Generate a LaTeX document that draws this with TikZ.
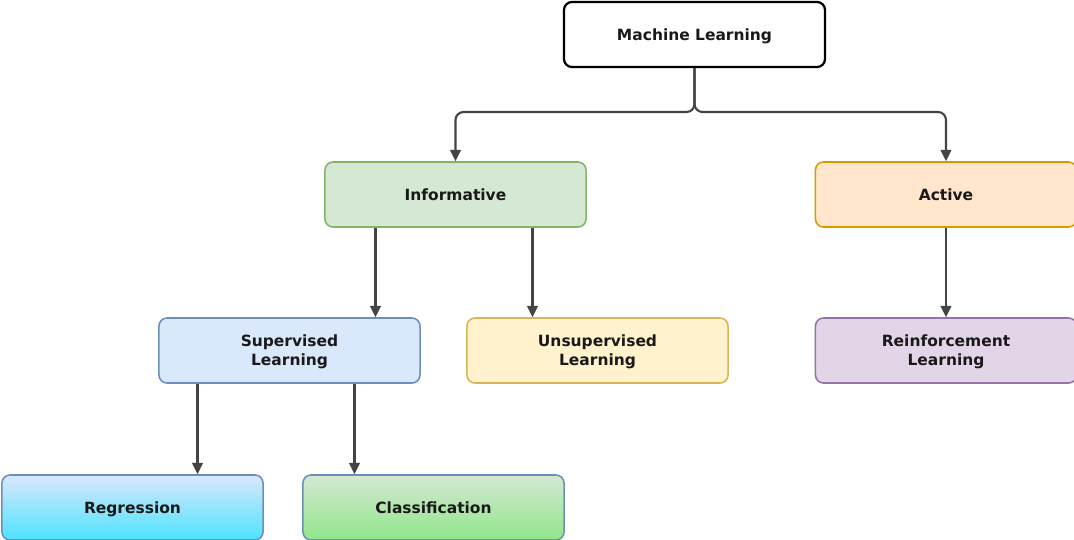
\documentclass[tikz,border=0pt]{standalone}
\usepackage{fontspec}
\setmainfont{DejaVu Sans}
\usetikzlibrary{arrows.meta,positioning}

\definecolor{infofill}{HTML}{D5E8D4}
\definecolor{infodraw}{HTML}{82B366}
\definecolor{actfill}{HTML}{FFE6CC}
\definecolor{actdraw}{HTML}{D79B00}
\definecolor{supfill}{HTML}{DAE8FC}
\definecolor{supdraw}{HTML}{6C8EBF}
\definecolor{unsfill}{HTML}{FFF2CC}
\definecolor{unsdraw}{HTML}{D6B656}
\definecolor{reifill}{HTML}{E1D5E7}
\definecolor{reidraw}{HTML}{9673A6}
\definecolor{regbot}{HTML}{4DE2FF}
\definecolor{clabot}{HTML}{90E68A}
\definecolor{edgegray}{HTML}{444444}

\tikzset{
  box/.style={rectangle, rounded corners=0.2cm, line width=1.1pt,
    minimum width=6.525cm, minimum height=1.625cm, align=center,
    text depth=0pt,
    font=\fontsize{11}{13.5}\selectfont\bfseries, text=black!90},
  edge/.style={-{Triangle[length=8pt,width=7.5pt]}, draw=edgegray,
    line width=1.5pt}
}

\begin{document}
\begin{tikzpicture}[x=0.025cm, y=-0.025cm]
  \useasboundingbox (0,0) rectangle (1074,540);
  \fill[white] (0,0) rectangle (1074,540);

  \node[box, draw=black, fill=white, line width=1.6pt] (ml)  at (694.5,34.5)  {Machine Learning};
  \node[box, draw=infodraw, fill=infofill] (inf) at (455.5,194.5) {Informative};
  \node[box, draw=actdraw, fill=actfill]   (act) at (946,194.5)   {Active};
  \node[box, draw=supdraw, fill=supfill]   (sup) at (289.5,350.5) {Supervised\\Learning};
  \node[box, draw=unsdraw, fill=unsfill]   (uns) at (597.5,350.5) {Unsupervised\\Learning};
  \node[box, draw=reidraw, fill=reifill]   (rei) at (946,350.5)   {Reinforcement\\Learning};
  \node[box, draw=supdraw, top color=supfill, bottom color=regbot]  (reg) at (132.5,507.5) {Regression};
  \node[box, draw=supdraw, top color=infofill, bottom color=clabot] (cla) at (433.5,507.5) {Classification};

  % split under the root
  \coordinate (split) at (694.5,112);
  \draw[edge, rounded corners=0.2cm] (ml.south) -- (split) -| (inf.north);
  \draw[edge, rounded corners=0.2cm] (ml.south) -- (split) -| (act.north);

  % informative branch
  \coordinate (i1) at ([xshift=-2.0cm]inf.south);
  \coordinate (i2) at ([xshift=1.925cm]inf.south);
  \draw[edge] (i1) -- (i1 |- sup.north);
  \draw[edge] (i2) -- (i2 |- uns.north);

  % supervised branch
  \coordinate (s1) at ([xshift=-2.3cm]sup.south);
  \coordinate (s2) at ([xshift=1.625cm]sup.south);
  \draw[edge] (s1) -- (s1 |- reg.north);
  \draw[edge] (s2) -- (s2 |- cla.north);

  \draw[edge] (act) -- (rei);
\end{tikzpicture}
\end{document}
